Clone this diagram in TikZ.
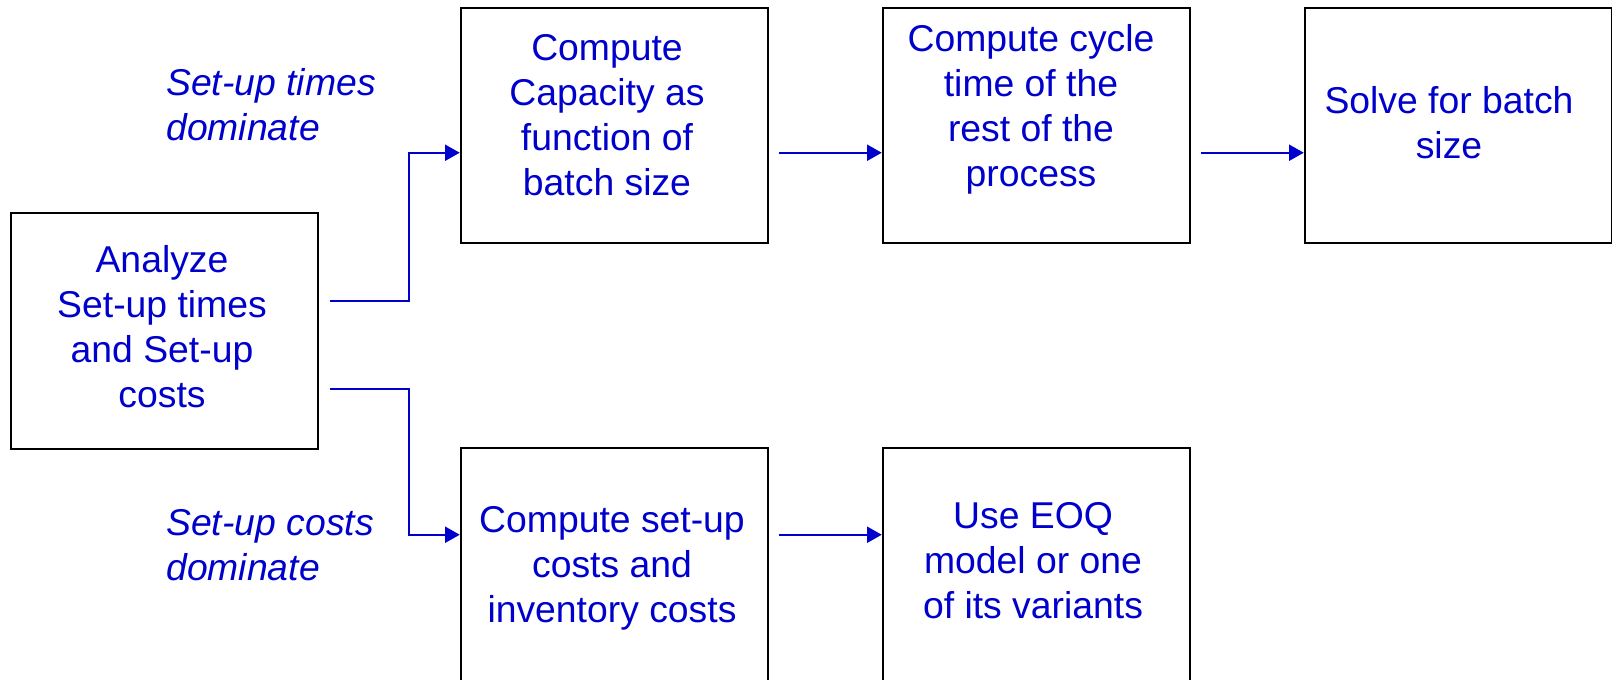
\documentclass[tikz,border=0pt]{standalone}
\usepackage{fontspec}
\setmainfont{Liberation Sans}
\usetikzlibrary{arrows.meta,calc}
\definecolor{txtblue}{HTML}{0000CC}
\tikzset{
  box/.style={draw=black, line width=1.9pt, minimum width=230.25pt, minimum height=176.25pt, inner sep=0pt},
  boxtext/.style={text=txtblue, align=center, font=\fontsize{28pt}{33.75pt}\selectfont, inner sep=0pt},
  note/.style={text=txtblue, align=left, font=\fontsize{28pt}{33.75pt}\selectfont\itshape, inner sep=0pt, anchor=west},
  conn/.style={draw=txtblue, line width=1.5pt, -{Triangle[length=11pt,width=12pt]}},
  plain/.style={draw=txtblue, line width=1.5pt}
}
\begin{document}
\begin{tikzpicture}[x=0.75pt,y=-0.75pt]
\clip (0,0) rectangle (1612,680);
\fill[white] (0,0) rectangle (1612,680);
% boxes
\node[box] (a)   at (164.5,331) [minimum height=177pt] {};
\node[box] (cap) at (614.5,125.5) {};
\node[box] (cyc) at (1036.5,125.5) {};
\node[box] (sol) at (1458.5,125.5) {};
\node[box] (csu) at (614.5,565.5) {};
\node[box] (eoq) at (1036.5,565.5) {};
% texts
\node[boxtext] (ta)   at (162,327) {Analyze\\Set-up times\\and Set-up\\costs};
\node[boxtext] (tcap) at (607,115) {Compute\\Capacity as\\function of\\batch size};
\node[boxtext] (tcyc) at (1031,109) {Compute cycle\\time of the\\rest of the\\process};
\node[boxtext] (tsol) at (1449,123) {Solve for batch\\size};
\node[boxtext] (tcsu) at (612,568) {Compute set-up\\costs and\\inventory costs};
\node[boxtext] (teoq) at (1033,561) {Use EOQ\\model or one\\of its variants};
% notes
\node[note] (n1) at (166,105) {Set-up times\\dominate};
\node[note] (n2) at (166,545) {Set-up costs\\dominate};
% connectors
\coordinate (s1) at ($(a.east)+(11,-30)$);
\coordinate (s2) at ($(a.east)+(11,58)$);
\draw[conn] (s1) -- ($(s1)+(79,0)$) |- ($(cap.north west)+(0,146)$);
\draw[conn] (s2) -- ($(s2)+(79,0)$) |- ($(csu.north west)+(0,88)$);
\draw[conn] ($(cap.north east)+(10,146)$) -- ($(cyc.north west)+(0,146)$);
\draw[conn] ($(cyc.north east)+(10,146)$) -- ($(sol.north west)+(0,146)$);
\draw[conn] ($(csu.north east)+(10,88)$) -- ($(eoq.north west)+(0,88)$);
\end{tikzpicture}
\end{document}
